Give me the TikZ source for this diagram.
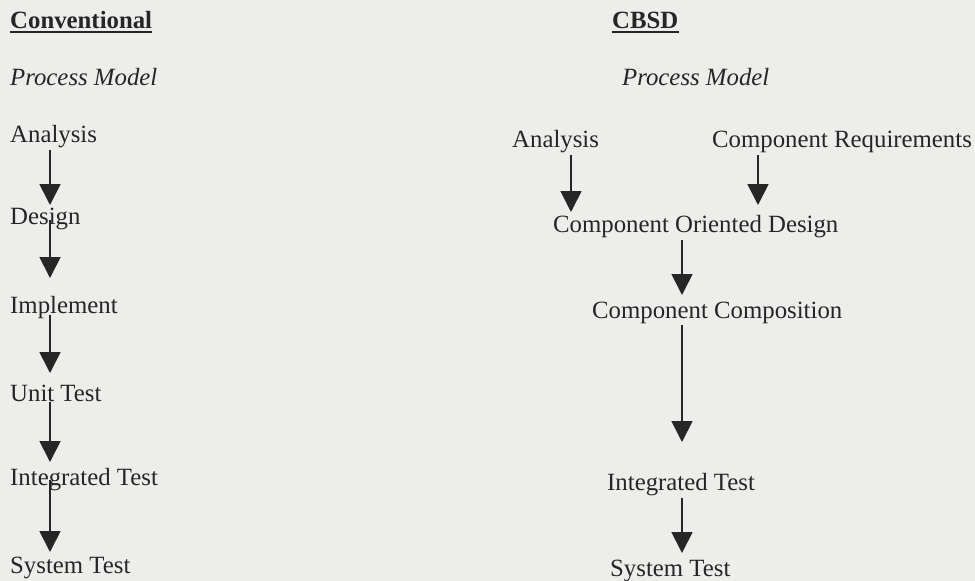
\documentclass[tikz,border=0pt]{standalone}
\usepackage{fontspec}
\setmainfont{Liberation Serif}
\usetikzlibrary{arrows.meta}
\definecolor{paper}{HTML}{EDEDEB}
\definecolor{ink}{HTML}{262626}
\tikzset{
  lbl/.style={anchor=base west, inner sep=0pt, text=ink, font=\fontsize{24.8}{28}\selectfont},
  head/.style={lbl, font=\fontsize{24.8}{28}\selectfont\bfseries},
  pm/.style={lbl, font=\fontsize{24.8}{28}\selectfont\itshape},
  arr/.style={draw=ink, line width=1.8pt, -{Triangle[width=21pt,length=21pt]}},
  ul/.style={draw=ink, line width=1.8pt}
}
\begin{document}
\begin{tikzpicture}[x=1pt,y=-1pt]
\fill[paper] (0,0) rectangle (975,581);
\useasboundingbox (0,0) rectangle (975,581);
% left column
\node[head] (conv) at (10,28) {Conventional};
\draw[ul] ([yshift=-4pt]conv.base west) -- ([yshift=-4pt]conv.base east);
\node[pm] (pml) at (10,85) {Process Model};
\node[lbl] (la) at (10,142) {Analysis};
\node[lbl] (ld) at (10,224) {Design};
\node[lbl] (li) at (10,313) {Implement};
\node[lbl] (lu) at (10,401) {Unit Test};
\node[lbl] (lt) at (10,485) {Integrated Test};
\node[lbl] (ls) at (10,573) {System Test};
\coordinate (lx) at (50,0);
\draw[arr] ([yshift=-8pt]la.base -| lx) -- ([yshift=-63pt]la.base -| lx);
\draw[arr] ([yshift=4pt]ld.base -| lx) -- ([yshift=-54pt]ld.base -| lx);
\draw[arr] ([yshift=-2pt]li.base -| lx) -- ([yshift=-60pt]li.base -| lx);
\draw[arr] ([yshift=-1pt]lu.base -| lx) -- ([yshift=-61pt]lu.base -| lx);
\draw[arr] ([yshift=5pt]lt.base -| lx) -- ([yshift=-67pt]lt.base -| lx);
% right column
\node[head] (cbsd) at (612,28) {CBSD};
\draw[ul] ([yshift=-4pt]cbsd.base west) -- ([yshift=-4pt]cbsd.base east);
\node[pm] (pmr) at (622,85) {Process Model};
\node[lbl] (ra) at (512,147) {Analysis};
\node[lbl] (rr) at (712,147) {Component Requirements};
\node[lbl] (rd) at (553,232) {Component Oriented Design};
\node[lbl] (rc) at (592,318) {Component Composition};
\node[lbl] (rt) at (607,490) {Integrated Test};
\node[lbl] (rs) at (610,576) {System Test};
\coordinate (x1) at (571,0);
\coordinate (x2) at (758,0);
\coordinate (x3) at (682,0);
\draw[arr] ([yshift=-8pt]ra.base -| x1) -- ([yshift=-65pt]ra.base -| x1);
\draw[arr] ([yshift=-8pt]rr.base -| x2) -- ([yshift=-58pt]rr.base -| x2);
\draw[arr] ([yshift=-8pt]rd.base -| x3) -- ([yshift=-63pt]rd.base -| x3);
\draw[arr] ([yshift=-7pt]rc.base -| x3) -- ([yshift=-124pt]rc.base -| x3);
\draw[arr] ([yshift=-8pt]rt.base -| x3) -- ([yshift=-63pt]rt.base -| x3);
\end{tikzpicture}
\end{document}
